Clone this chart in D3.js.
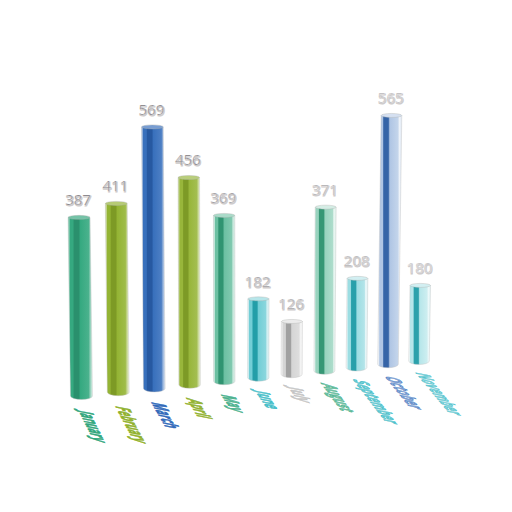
<!DOCTYPE html>
<html>
<head>
<meta charset="utf-8">
<script src="https://cdn.jsdelivr.net/npm/d3@7"></script>
<style>
    html, body { margin: 0; padding: 0; background: #fff; }
    svg { display: block; }
    text { font-family: "Open Sans", sans-serif; }
</style>
</head>
<body>
<svg id="chart" width="512" height="512"></svg>
<script>
var months = ["January", "February", "March", "April", "May", "June", "July", "August", "September", "October", "November"];
var values = [387, 411, 569, 456, 369, 182, 126, 371, 208, 565, 180];
var colorLimits = [150, 300, 400, 500];
var colorRange = ["#b4b4b4", "#1cb0bd", "#2fa67c", "#8fb02a", "#2b66b8"];

var svg = d3.select("#chart"),
    defs = svg.append("defs");

// the floor recedes to the right, so equal steps get shorter with depth
var depthRatio = 1.1;
var step = d3.scalePoint().domain(months).range([0, 1]);

function depth(month) {
    var t = step(month);
    return t * depthRatio / ((1 - t) + t * depthRatio);
}

var floorX = d3.scaleLinear().domain([0, 1]).range([81.5, 419]),
    floorY = d3.scaleLinear().domain([0, 1]).range([396, 361]),
    barWidth = d3.scaleLinear().domain([0, 1]).range([22, 20.5]),
    valueHeight = d3.scaleLinear().domain([0, 569]).range([-5, 265]),
    shrink = d3.scaleLinear().domain([0, 1]).range([1, 0.94]),
    fade = d3.scaleLinear().domain([0, 0.33, 0.44, 1]).range([0.03, 0.08, 0.33, 0.68]),
    labelRunX = d3.scaleLinear().domain([0, 1]).range([0.33, 0.55]),
    color = d3.scaleThreshold().domain(colorLimits).range(colorRange);

var leanPerPixel = 0.00009,
    leanCenter = 235,
    capHeight = 2,
    bottomHeight = 3.5;

var data = months.map(function (month, i) {
    var d = depth(month),
        x = floorX(d),
        h = valueHeight(values[i]) * shrink(d);
    return {
        month: month,
        value: values[i],
        depth: d,
        x: x,
        y: floorY(d),
        w: barWidth(d),
        h: h,
        lean: (x - leanCenter) * h * leanPerPixel,
        color: color(values[i]),
        fade: fade(d)
    };
});

function pale(c, amount) {
    return d3.interpolateRgb(c, "#ffffff")(amount);
}

function barStops(d) {
    var side = pale(d.color, d.fade),
        rim = pale(d.color, Math.min(0.92, d.fade + 0.4)),
        dark = pale(d3.color(d.color).darker(0.4).formatHex(), d.fade * 0.12);
    return [
        [0, rim], [0.05, rim], [0.08, side], [0.2, side],
        [0.25, dark], [0.44, dark], [0.5, side], [0.84, pale(d.color, d.fade + 0.1)],
        [0.9, rim], [1, pale(d.color, 0.85)]
    ];
}

// one horizontal gradient per bar for the faces of the prism
data.forEach(function (d, i) {
    defs.append("linearGradient")
        .attr("id", "bar-" + i)
        .selectAll("stop")
        .data(barStops(d))
        .join("stop")
        .attr("offset", function (s) { return s[0]; })
        .attr("stop-color", function (s) { return s[1]; });
});

function barPath(d) {
    var r = d.w / 2;
    return "M" + (d.x - r + d.lean) + "," + (d.y - d.h) +
        "L" + (d.x + r + d.lean) + "," + (d.y - d.h) +
        "L" + (d.x + r) + "," + d.y +
        "A" + r + "," + bottomHeight + " 0 0 1 " + (d.x - r) + "," + d.y + "Z";
}

var bars = svg.append("g").selectAll("g")
    .data(data)
    .join("g");

bars.append("path")
    .attr("d", barPath)
    .attr("fill", function (d, i) { return "url(#bar-" + i + ")"; })
    .attr("stroke", function (d) { return pale("#8a8a8a", 0.45); })
    .attr("stroke-width", 0.4);

bars.append("ellipse")
    .attr("cx", function (d) { return d.x + d.lean; })
    .attr("cy", function (d) { return d.y - d.h; })
    .attr("rx", function (d) { return d.w / 2; })
    .attr("ry", capHeight)
    .attr("fill", function (d) { return pale(d.color, Math.min(0.8, d.fade + 0.3)); })
    .attr("stroke", "#b0b4b0")
    .attr("stroke-width", 0.4);

// value labels: a soft grey copy below and the digits on top
var valueLabels = svg.append("g")
    .attr("text-anchor", "middle")
    .attr("font-size", 15)
    .selectAll("g")
    .data(data)
    .join("g")
    .attr("transform", function (d) {
        return "translate(" + (d.x + d.lean - 1) + "," + (d.y - d.h - 12) + ")";
    });

valueLabels.append("text")
    .attr("x", 0.7)
    .attr("y", 0.7)
    .attr("fill", "#cfcccc")
    .attr("stroke", "#cfcccc")
    .attr("stroke-width", 1)
    .text(function (d) { return d.value; });

valueLabels.append("text")
    .attr("fill", function (d) { return pale("#8b888c", d.fade * 0.8); })
    .attr("stroke", "#ffffff")
    .attr("stroke-width", 0.2)
    .text(function (d) { return d.value; });

// month labels lie on the floor, drawn with a shear
svg.append("g")
    .attr("font-size", 12)
    .attr("font-weight", 700)
    .selectAll("text")
    .data(data)
    .join("text")
    .attr("transform", function (d) {
        return "matrix(" + [labelRunX(d.depth), 0.66, -1.67, -0.33,
            d.x - 3 - d.depth, d.y + 14 - 3 * d.depth].join(",") + ")";
    })
    .attr("fill", function (d) { return pale(d.color, d.fade * 0.75); })
    .attr("stroke", function (d) { return pale(d.color, d.fade * 0.35); })
    .attr("stroke-width", 0.7)
    .attr("stroke-linejoin", "round")
    .text(function (d) { return d.month; });
</script>
</body>
</html>
